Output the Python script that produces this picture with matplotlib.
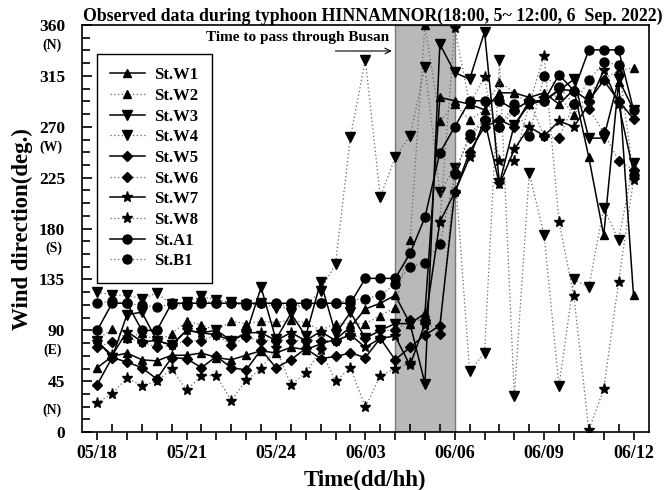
import matplotlib
matplotlib.use("Agg")  # headless backend

import matplotlib.pyplot as plt
import matplotlib.transforms as mtransforms
from matplotlib.ticker import MultipleLocator, FixedLocator, FuncFormatter
import numpy as np

plt.rcParams["font.family"] = ["Liberation Serif", "DejaVu Serif"]
plt.rcParams["font.weight"] = "bold"
plt.rcParams["axes.labelweight"] = "bold"
plt.rcParams["axes.titleweight"] = "bold"

# hours after 05/18 (half-hourly observations up to 06/12)
hours = np.arange(0, 18.5, 0.5)
tick_hours = [0, 3, 6, 9, 12, 15, 18]
tick_labels = ["05/18", "05/21", "05/24", "06/03", "06/06", "06/09", "06/12"]
pass_start, pass_end = 10, 12   # time to pass through Busan

deg_ticks = [0, 45, 90, 135, 180, 225, 270, 315, 360]
dir_labels = {360: "(N)", 270: "(W)", 180: "(S)", 90: "(E)", 0: "(N)"}

# wind direction (deg.) per station
w1 = [57, 67, 70, 64, 63, 68, 68, 70, 66, 64, 68, 72, 70, 75, 73, 78, 82, 93, 109, 114,
      121, 96, 105, 296, 293, 290, 285, 300, 300, 296, 300, 290, 303, 243, 174, 310, 121]
w2 = [82, 91, 83, 88, 80, 87, 98, 95, 90, 98, 96, 98, 97, 99, 97, 90, 96, 96, 96, 103,
      110, 170, 360, 275, 290, 276, 285, 310, 300, 290, 295, 298, 280, 300, 312, 320, 322]
w3 = [81, 66, 104, 106, 81, 77, 90, 88, 90, 81, 87, 128, 82, 105, 85, 133, 87, 106, 83, 90,
      96, 96, 43, 343, 318, 312, 354, 220, 272, 290, 293, 302, 312, 260, 260, 312, 285]
w4 = [124, 121, 121, 118, 123, 113, 115, 120, 117, 115, 112, 114, 110, 110, 112, 125, 149, 261, 329, 208,
      243, 262, 323, 212, 234, 54, 70, 329, 32, 229, 174, 41, 135, 128, 198, 170, 238]
w5 = [42, 66, 62, 57, 47, 66, 65, 57, 67, 57, 55, 73, 57, 64, 74, 65, 67, 70, 66, 83,
      64, 75, 86, 94, 212, 248, 270, 276, 270, 293, 293, 303, 302, 293, 311, 293, 277]
w6 = [75, 80, 83, 80, 75, 77, 81, 81, 86, 77, 84, 81, 81, 81, 81, 81, 81, 86, 83, 90,
      90, 99, 99, 87, 230, 260, 276, 270, 284, 293, 262, 260, 290, 286, 265, 240, 232]
w7 = [80, 68, 89, 80, 81, 77, 90, 88, 86, 81, 88, 88, 81, 88, 81, 89, 81, 86, 75, 83,
      85, 59, 96, 186, 212, 243, 276, 219, 250, 270, 262, 275, 270, 290, 320, 290, 230]
w8 = [26, 34, 48, 41, 45, 56, 37, 50, 50, 28, 46, 56, 74, 42, 52, 73, 45, 57, 22, 50,
      56, 61, 95, 186, 357, 290, 314, 240, 240, 290, 333, 186, 120, 2, 38, 133, 223]
a1 = [90, 114, 114, 90, 90, 114, 114, 114, 114, 114, 114, 114, 114, 114, 114, 114, 114, 114, 136, 136,
      136, 158, 190, 247, 270, 293, 293, 293, 285, 293, 293, 316, 302, 338, 338, 338, 285]
b1 = [114, 116, 114, 112, 111, 113, 112, 116, 114, 114, 112, 114, 113, 112, 113, 114, 114, 117, 118, 121,
      131, 146, 150, 166, 228, 264, 276, 270, 290, 262, 315, 305, 290, 311, 327, 325, 227]

stations = ["St.W1", "St.W2", "St.W3", "St.W4", "St.W5",
            "St.W6", "St.W7", "St.W8", "St.A1", "St.B1"]
series = [w1, w2, w3, w4, w5, w6, w7, w8, a1, b1]
markers = ["^", "^", "v", "v", "D", "D", "*", "*", "o", "o"]
msizes = [6, 6, 6.5, 6.5, 5, 5, 8, 8, 6.5, 6.5]

fig = plt.figure(figsize=(6.71, 4.90), dpi=100)
ax = fig.add_axes([0.122, 0.118, 0.845, 0.831])

ax.axvspan(pass_start, pass_end, facecolor="#b9b9b9", edgecolor="#7a7a7a",
           linewidth=1.0, zorder=0)

for name, vals, m, ms in zip(stations, series, markers, msizes):
    dotted = name in ("St.W2", "St.W4", "St.W6", "St.W8", "St.B1")
    if dotted:
        ax.plot(hours, vals, color="#666666", linestyle=(0, (1, 2)), linewidth=0.9,
                marker=m, markersize=ms, markerfacecolor="black",
                markeredgecolor="black", label=name, zorder=2)
    else:
        ax.plot(hours, vals, color="black", linestyle="-", linewidth=1.1,
                marker=m, markersize=ms, markerfacecolor="black",
                markeredgecolor="black", label=name, zorder=3)

ax.set_xlim(-0.515, 18.515)
ax.set_ylim(0, 360)

# x axis: hourly ticks out, half-hour ticks in, labels every 3 h
ax.xaxis.set_major_locator(FixedLocator(np.arange(0, 19, 1)))
ax.xaxis.set_minor_locator(FixedLocator(np.arange(0.5, 18, 1)))
lab = dict(zip(tick_hours, tick_labels))
ax.xaxis.set_major_formatter(FuncFormatter(lambda v, p: lab.get(int(round(v)), "")))
ax.tick_params(axis="x", which="major", direction="out", length=6, width=1.2,
               labelsize=13, pad=3)
ax.tick_params(axis="x", which="minor", direction="in", length=6, width=1.2)

# y axis
ax.yaxis.set_major_locator(FixedLocator(deg_ticks))
ax.yaxis.set_minor_locator(MultipleLocator(11.25))
ax.tick_params(axis="y", which="major", direction="in", length=7, width=1.2,
               labelsize=12.5, pad=12)
ax.tick_params(axis="y", which="minor", direction="in", length=6, width=1.2)
ax.tick_params(top=False, right=False, which="both")

for sp in ax.spines.values():
    sp.set_linewidth(1.2)

trans = mtransforms.blended_transform_factory(ax.transAxes, ax.transData)
for deg, txt in dir_labels.items():
    dy = 22 if deg == 0 else -20
    t = mtransforms.offset_copy(trans, fig=fig, x=0, y=dy, units="dots")
    ax.text(-0.035, deg, txt, transform=t, ha="right", va="center", fontsize=10)

ax.set_ylabel("Wind direction(deg.)", fontsize=16.5, labelpad=4)
ax.set_xlabel("Time(dd/hh)", fontsize=16.5, labelpad=6)
ax.set_title("Observed data during typhoon HINNAMNOR(18:00, 5~ 12:00, 6  Sep. 2022)",
             fontsize=12.8, pad=3, x=0.513)

ax.annotate("", xy=(pass_start - 0.02, 337), xytext=(7.9, 337),
            arrowprops=dict(arrowstyle="->", color="black", lw=0.8))
ax.text(pass_start - 0.2, 349, "Time to pass through Busan", ha="right", va="center",
        fontsize=11)

leg = ax.legend(loc="upper left", bbox_to_anchor=(0.026, 0.929), fontsize=12,
                frameon=True, fancybox=False, edgecolor="black", framealpha=1,
                handlelength=2.1, handletextpad=0.55, labelspacing=0.28,
                borderpad=0.8, borderaxespad=0)
leg.get_frame().set_linewidth(1.0)

fig.savefig("out.png", dpi=100)
plt.close(fig)
